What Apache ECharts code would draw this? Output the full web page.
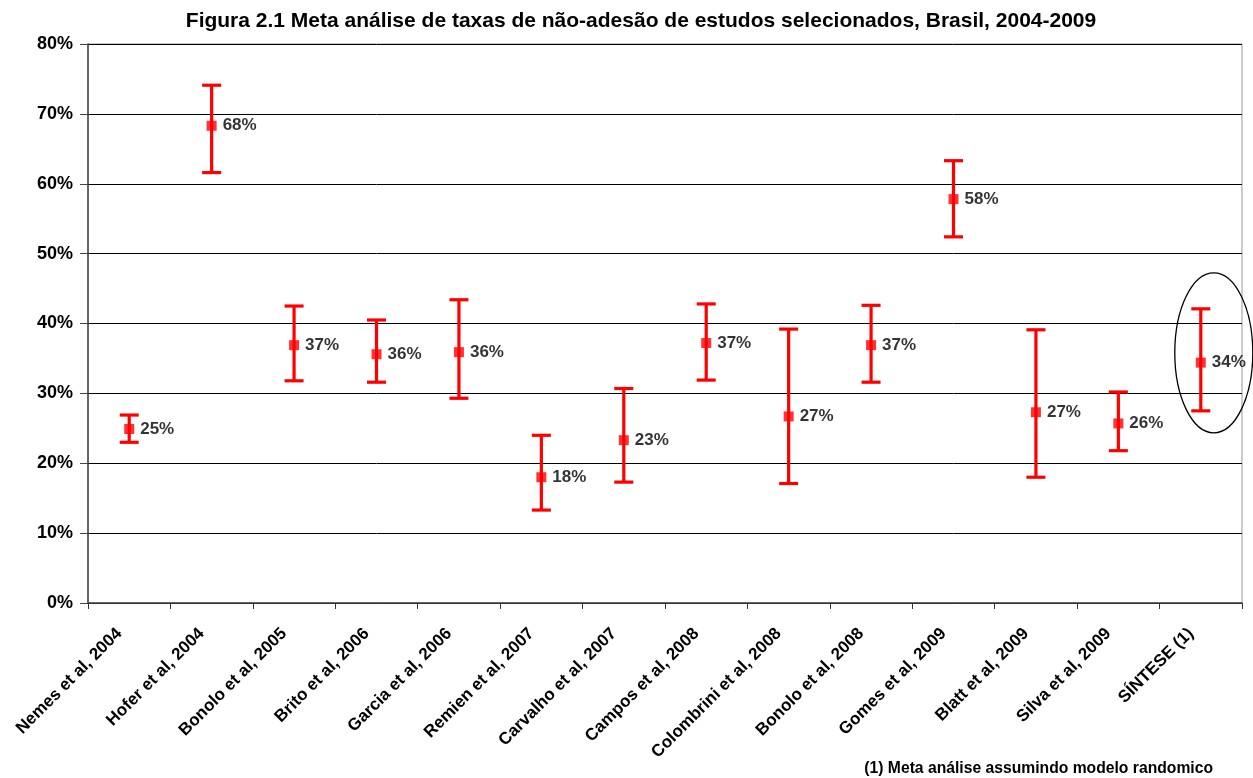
<!DOCTYPE html>
<html>
<head>
<meta charset="utf-8">
<script src="https://cdn.jsdelivr.net/npm/echarts@6/dist/echarts.min.js"></script>
<style>
  html, body { margin: 0; padding: 0; background: #fff; }
  #chart { width: 1253px; height: 778px; }
</style>
</head>
<body>
<div id="chart"></div>
<script>
// Studies and their non-adherence rates (%) with confidence limits
const categories = [
  'Nemes et al, 2004', 'Hofer et al, 2004', 'Bonolo et al, 2005', 'Brito et al, 2006',
  'Garcia et al, 2006', 'Remien et al, 2007', 'Carvalho et al, 2007', 'Campos et al, 2008',
  'Colombrini et al, 2008', 'Bonolo et al, 2008', 'Gomes et al, 2009', 'Blatt et al, 2009',
  'Silva et al, 2009', 'SÍNTESE (1)'
];
const rate  = [24.9, 68.3, 36.9, 35.6, 35.9, 18.0, 23.3, 37.2, 26.7, 36.9, 57.8, 27.3, 25.7, 34.4];
const lower = [23.0, 61.6, 31.8, 31.6, 29.3, 13.3, 17.3, 31.9, 17.1, 31.6, 52.4, 18.0, 21.8, 27.5];
const upper = [26.9, 74.1, 42.5, 40.5, 43.4, 24.0, 30.7, 42.8, 39.2, 42.6, 63.3, 39.1, 30.2, 42.1];
const yTicks = [0, 10, 20, 30, 40, 50, 60, 70, 80];

const FONT = '"Liberation Sans", Arial, sans-serif';
const RED = '#ff0000';

const chart = echarts.init(document.getElementById('chart'), null, { renderer: 'canvas' });

const intervalData = categories.map((c, i) => [i, lower[i], upper[i]]);
const pointData = categories.map((c, i) => [i, rate[i]]);

chart.setOption({
  animation: false,
  backgroundColor: '#fff',
  title: {
    text: 'Figura 2.1 Meta análise de taxas de não-adesão de estudos selecionados, Brasil, 2004-2009',
    left: 636, top: 6, textAlign: 'center',
    textStyle: { fontFamily: FONT, fontWeight: 'bold', fontSize: 21, color: '#000' }
  },
  grid: {
    left: 88, right: 11, top: 44, bottom: 175,
    show: true, borderColor: '#999', borderWidth: 1
  },
  xAxis: {
    type: 'category',
    data: categories,
    boundaryGap: true,
    axisLine: { lineStyle: { color: '#444', width: 1.5 } },
    axisTick: { show: true, alignWithLabel: false, length: 6, lineStyle: { color: '#333' } },
    axisLabel: {
      rotate: 45, interval: 0, margin: 18,
      padding: [0, 14, 0, 0],
      fontFamily: FONT, fontWeight: 'bold', fontSize: 17, color: '#000'
    },
    splitLine: { show: false }
  },
  yAxis: {
    type: 'value',
    min: yTicks[0], max: yTicks[yTicks.length - 1], interval: 10,
    axisLine: { show: true, lineStyle: { color: '#444', width: 1.5 } },
    axisTick: { show: true, length: 8, lineStyle: { color: '#444' } },
    axisLabel: {
      margin: 15,
      formatter: v => v + '%',
      fontFamily: FONT, fontWeight: 'bold', fontSize: 18, color: '#000'
    },
    splitLine: { show: true, lineStyle: { color: '#000', width: 1 } }
  },
  series: [
    {
      // Confidence interval whiskers with caps
      type: 'custom',
      data: intervalData,
      encode: { x: 0, y: [1, 2] },
      z: 3,
      renderItem: function (params, api) {
        const x = api.value(0);
        const lo = api.coord([x, api.value(1)]);
        const hi = api.coord([x, api.value(2)]);
        const half = 9.5;
        const style = { stroke: RED, lineWidth: 3.2, fill: null };
        return {
          type: 'group',
          children: [
            { type: 'line', shape: { x1: lo[0], y1: lo[1], x2: hi[0], y2: hi[1] }, style },
            { type: 'line', shape: { x1: hi[0] - half, y1: hi[1], x2: hi[0] + half, y2: hi[1] }, style },
            { type: 'line', shape: { x1: lo[0] - half, y1: lo[1], x2: lo[0] + half, y2: lo[1] }, style }
          ]
        };
      }
    },
    {
      // Point estimates
      type: 'scatter',
      data: pointData,
      symbol: 'rect',
      symbolSize: [10, 10],
      itemStyle: { color: RED },
      z: 4,
      label: {
        show: true,
        position: 'right',
        distance: 6,
        formatter: p => Math.round(p.value[1]) + '%',
        fontFamily: FONT, fontWeight: 'bold', fontSize: 17, color: '#000'
      }
    }
  ]
});

// Ellipse highlighting the pooled estimate, and the footnote
const last = categories.length - 1;
const mid = chart.convertToPixel({ seriesIndex: 1 }, [last, (lower[last] + upper[last]) / 2]);
chart.setOption({
  graphic: [
    {
      type: 'ellipse',
      shape: { cx: mid[0] + 13, cy: mid[1] - 7, rx: 39, ry: 80 },
      style: { stroke: '#000', lineWidth: 1.3, fill: null },
      z: 10
    },
    {
      type: 'text',
      right: 40, top: 761,
      style: {
        text: '(1) Meta análise assumindo modelo randomico',
        font: 'bold 15.7px ' + FONT,
        fill: '#000'
      }
    }
  ]
});
</script>
</body>
</html>
